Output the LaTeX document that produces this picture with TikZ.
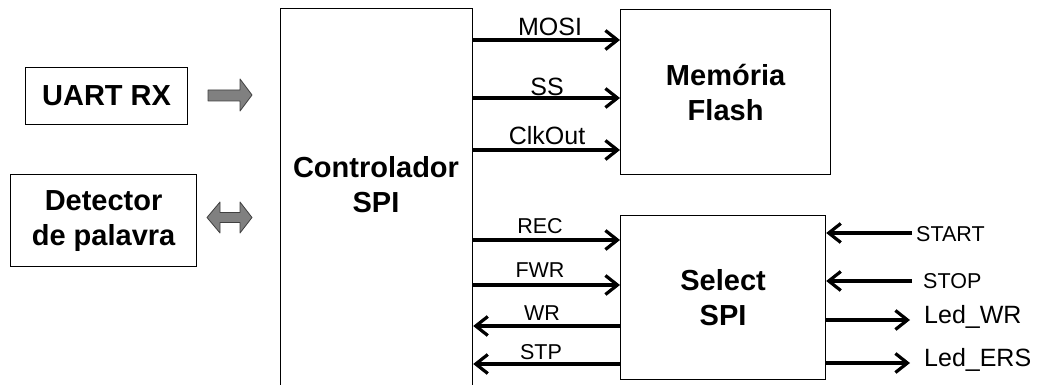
\documentclass[tikz,border=0pt]{standalone}
\usepackage{fontspec}
\setmainfont{Liberation Sans}
\usetikzlibrary{arrows.meta}
\begin{document}
\begin{tikzpicture}[x=1pt,y=-1pt,
  box/.style={draw, line width=1.2pt, inner sep=0pt, anchor=north west},
  btext/.style={font=\bfseries\fontsize{29}{35}\selectfont, align=center},
  lbl/.style={font=\fontsize{21.5}{24}\selectfont, inner sep=0pt},
  lblb/.style={font=\fontsize{25}{28}\selectfont, inner sep=0pt},
  sig/.style={line width=3.6pt, -{Straight Barb[length=12pt,width=19pt,line width=3.2pt]}},
  blk/.style={fill=black!50, draw=black!75, line width=0.8pt, line join=round}]
\useasboundingbox (0,0) rectangle (1039,385);
\clip (0,0) rectangle (1039,385);
% boxes
\node[box, minimum width=192pt, minimum height=400pt] (ctrl) at (280,8) {};
\node[btext] (ctrltxt) at (376,185) {Controlador\\SPI};
\node[box, minimum width=210pt, minimum height=165pt, btext] (flash) at (620,9) {Memória\\Flash};
\node[box, minimum width=205pt, minimum height=164pt, btext] (sel) at (620,215) {Select\\SPI};
\node[box, minimum width=162pt, minimum height=57pt, btext] (uart) at (25,67) {UART RX};
\node[box, minimum width=186pt, minimum height=92pt, btext] (det) at (10,174) {Detector\\de palavra};
% block arrows
\path[blk] (208,90) -- (240,90) -- (240,79) -- (252,95) -- (240,111) -- (240,101) -- (208,101) -- cycle;
\path[blk] (207,217.5) -- (220,202) -- (220,212.5) -- (240,212.5) -- (240,202) -- (252,217.5) -- (240,233) -- (240,222.5) -- (220,222.5) -- (220,233) -- cycle;
% signals to flash
\draw[sig] (ctrl.east |- 0,40) -- (flash.west |- 0,40);
\draw[sig] (ctrl.east |- 0,98) -- (flash.west |- 0,98);
\draw[sig] (ctrl.east |- 0,150) -- (flash.west |- 0,150);
\node[lblb] (lmosi) at (550,27) {MOSI};
\node[lblb] (lss) at (547,87) {SS};
\node[lblb] (lclk) at (547,136) {ClkOut};
% signals select
\draw[sig] (ctrl.east |- 0,240) -- (sel.west |- 0,240);
\draw[sig] (ctrl.east |- 0,285) -- (sel.west |- 0,285);
\draw[sig] (sel.west |- 0,326) -- (ctrl.east |- 0,326);
\draw[sig] (sel.west |- 0,364) -- (ctrl.east |- 0,364);
\node[lbl] (lrec) at (540,226) {REC};
\node[lbl] (lfwr) at (540,270) {FWR};
\node[lbl] (lwr) at (542,313) {WR};
\node[lbl] (lstp) at (541,352) {STP};
% right side
\coordinate (cstart) at (912,233);
\coordinate (cstop) at (912,281);
\coordinate (cledwr) at (910,320);
\coordinate (cleders) at (910,363);
\draw[sig] (cstart) -- (sel.east |- cstart);
\draw[sig] (cstop) -- (sel.east |- cstop);
\draw[sig] (sel.east |- cledwr) -- (cledwr);
\draw[sig] (sel.east |- cleders) -- (cleders);
\node[lbl, anchor=west] (lstart) at (916,234) {START};
\node[lbl, anchor=west] (lstop) at (923,281) {STOP};
\node[lblb, anchor=west] (lledwr) at (924,317) {Led\_WR};
\node[lblb, anchor=west] (lleders) at (924,360) {Led\_ERS};
\end{tikzpicture}
\end{document}
